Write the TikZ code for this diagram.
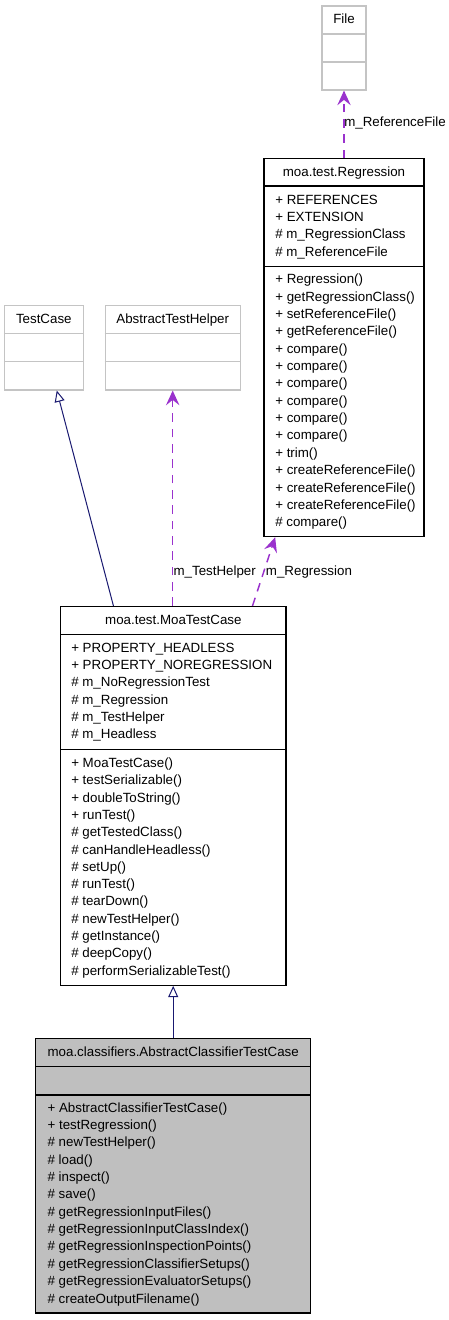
\documentclass[tikz,border=0pt]{standalone}
\usepackage{fontspec}
\setmainfont{Liberation Sans}
\usepackage{xcolor}
\usetikzlibrary{arrows.meta,calc,fit}

\definecolor{inheritblue}{HTML}{191970}
\definecolor{usepurple}{HTML}{9A32CD}
\definecolor{boxgray}{HTML}{BFBFBF}
\definecolor{ghostgray}{HTML}{C4C4C4}

\tikzset{
  classbox/.style={draw=black, line width=0.8pt, inner sep=0pt},
  ghostbox/.style={draw=ghostgray, line width=0.8pt, inner sep=0pt},
  member/.style={anchor=base west, inner sep=0pt, font=\fontsize{10}{12}\selectfont},
  classname/.style={anchor=base, inner sep=0pt, font=\fontsize{10}{12}\selectfont},
  rolename/.style={anchor=base west, inner sep=0pt, font=\fontsize{10}{12}\selectfont},
  inherit/.style={inheritblue, line width=0.75pt,
    -{Triangle[open, length=8.5pt, width=7.5pt]}},
  usage/.style={usepurple, line width=1.1pt, dash pattern=on 6.5pt off 5pt,
    -{Stealth[length=11pt, width=10pt, inset=4pt]}}
}

\begin{document}
\begin{tikzpicture}[x=0.75pt, y=-0.75pt]
\useasboundingbox (0,0) rectangle (449,1320);

% external classes (grey)
\node[ghostbox, fit={(322,6) (366,90)}] (file) {};
\draw[ghostgray, line width=0.8pt] (file.west |- 0,34) -- (file.east |- 0,34);
\draw[ghostgray, line width=0.8pt] (file.west |- 0,62) -- (file.east |- 0,62);
\node[classname] at (file.north |- 0,23.1) {File};

\node[ghostbox, fit={(4.3,305.7) (83.3,390)}] (testcase) {};
\draw[ghostgray, line width=0.8pt] (testcase.west |- 0,333.3) -- (testcase.east |- 0,333.3);
\draw[ghostgray, line width=0.8pt] (testcase.west |- 0,361.7) -- (testcase.east |- 0,361.7);
\node[classname] at (testcase.north |- 0,323.1) {TestCase};

\node[ghostbox, fit={(105.2,305.7) (240.2,390)}] (helper) {};
\draw[ghostgray, line width=0.8pt] (helper.west |- 0,333.3) -- (helper.east |- 0,333.3);
\draw[ghostgray, line width=0.8pt] (helper.west |- 0,361.7) -- (helper.east |- 0,361.7);
\node[classname] at (helper.north |- 0,323.1) {AbstractTestHelper};

% moa.test.Regression
\node[classbox, fit={(264,158.7) (424,536.7)}] (reg) {};
\draw[line width=0.8pt] (reg.west |- 0,186) -- (reg.east |- 0,186);
\draw[line width=0.8pt] (reg.west |- 0,266.7) -- (reg.east |- 0,266.7);
\node[classname] at (reg.north |- 0,176.5) {moa.test.Regression};
\foreach \m [count=\i from 0] in {+ REFERENCES, + EXTENSION,
    \# m\_RegressionClass, \# m\_ReferenceFile}
  \node[member] at (275, {204.1+17.35*\i}) {\m};
\foreach \m [count=\i from 0] in {+ Regression(), + getRegressionClass(),
    + setReferenceFile(), + getReferenceFile(), + compare(), + compare(),
    + compare(), + compare(), + compare(), + compare(), + trim(),
    + createReferenceFile(), + createReferenceFile(),
    + createReferenceFile(), \# compare()}
  \node[member] at (275, {283.8+17.35*\i}) {\m};

% moa.test.MoaTestCase
\node[classbox, fit={(60.7,606.5) (286,985.3)}] (moa) {};
\draw[line width=0.8pt] (moa.west |- 0,634.3) -- (moa.east |- 0,634.3);
\draw[line width=0.8pt] (moa.west |- 0,749.3) -- (moa.east |- 0,749.3);
\node[classname] at (moa.north |- 0,624.1) {moa.test.MoaTestCase};
\foreach \m [count=\i from 0] in {+ PROPERTY\_HEADLESS,
    + PROPERTY\_NOREGRESSION, \# m\_NoRegressionTest, \# m\_Regression,
    \# m\_TestHelper, \# m\_Headless}
  \node[member] at (71, {652.1+17.3*\i}) {\m};
\foreach \m [count=\i from 0] in {+ MoaTestCase(), + testSerializable(),
    + doubleToString(), + runTest(), \# getTestedClass(),
    \# canHandleHeadless(), \# setUp(), \# runTest(), \# tearDown(),
    \# newTestHelper(), \# getInstance(), \# deepCopy(),
    \# performSerializableTest()}
  \node[member] at (71, {767.5+17.3*\i}) {\m};

% moa.classifiers.AbstractClassifierTestCase
\node[classbox, fill=boxgray, fit={(35.7,1038.7) (310.7,1313)}] (actc) {};
\draw[line width=0.8pt] (actc.west |- 0,1066.3) -- (actc.east |- 0,1066.3);
\draw[line width=0.8pt] (actc.west |- 0,1095) -- (actc.east |- 0,1095);
\node[classname] at (actc.north |- 0,1056.1)
  {moa.classifiers.AbstractClassifierTestCase};
\foreach \m [count=\i from 0] in {+ AbstractClassifierTestCase(),
    + testRegression(), \# newTestHelper(), \# load(), \# inspect(),
    \# save(), \# getRegressionInputFiles(),
    \# getRegressionInputClassIndex(), \# getRegressionInspectionPoints(),
    \# getRegressionClassifierSetups(), \# getRegressionEvaluatorSetups(),
    \# createOutputFilename()}
  \node[member] at (47.3, {1112.1+17.36*\i}) {\m};

% relations
\draw[usage] (reg.north) -- (file.south);
\node[rolename] at (344,127) {m\_ReferenceFile};

\draw[inherit] ($(moa.north west)+(53.3,0)$) -- ($(testcase.south west)+(53,0)$);

\draw[usage] (moa.north -| helper.south) -- (helper.south);
\node[rolename] at (173.3,575.8) {m\_TestHelper};

\draw[usage] ($(moa.north west)+(192.3,0)$) -- ($(reg.south west)+(11.7,0)$);
\node[rolename] at (265.7,575.8) {m\_Regression};

\draw[inherit] (actc.north) -- (actc.north |- moa.south);

\end{tikzpicture}
\end{document}
